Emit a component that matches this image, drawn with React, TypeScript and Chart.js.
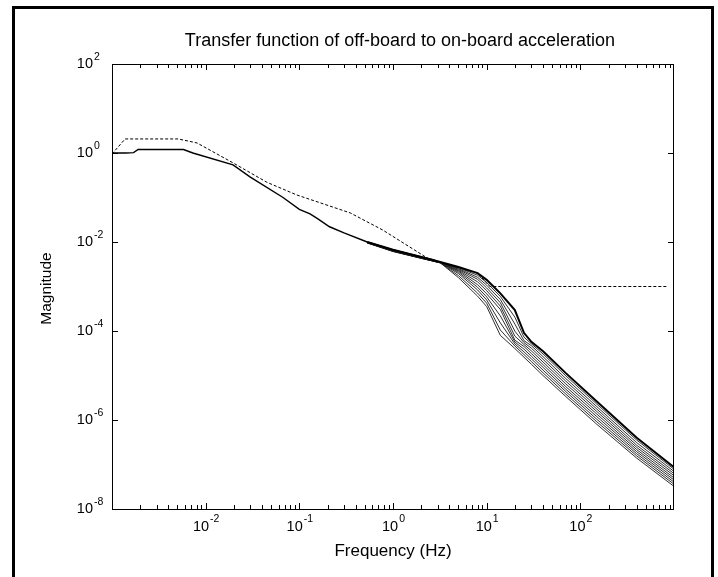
import React, { useEffect, useRef } from "react";
import { Chart, registerables } from "chart.js";

Chart.register(...registerables);

// ---------- data ----------
const TITLE = "Transfer function of off-board to on-board acceleration";
const X_LABEL = "Frequency (Hz)";
const Y_LABEL = "Magnitude";

const X_MIN = 0.001;
const X_MAX = 1000;
const Y_MIN = 1e-8;
const Y_MAX = 1e2;

const X_TICK_EXPONENTS = [-2, -1, 0, 1, 2];
const X_DECADES = [-3, -2, -1, 0, 1, 2];
const Y_TICK_EXPONENTS = [2, 0, -2, -4, -6, -8];

// low-frequency solid response
const FREQ_SOLID = [0.001, 0.0014, 0.0017, 0.0019, 0.0058, 0.0073, 0.0196, 0.0297, 0.067, 0.1, 0.13, 0.155, 0.21, 0.3, 0.53, 1.0, 2.67, 3.2];
const MAG_SOLID = [1.0, 1.0, 1.02, 1.2, 1.2, 1.0, 0.54, 0.29, 0.1, 0.054, 0.043, 0.034, 0.022, 0.016, 0.01, 0.0066, 0.004, 0.0035];

// dotted reference response
const FREQ_DOTTED = [0.001, 0.00138, 0.0051, 0.0081, 0.0196, 0.045, 0.094, 0.35, 0.78, 2.48, 3.2, 8, 10.8, 850];
const MAG_DOTTED = [0.95, 2.07, 2.07, 1.68, 0.6, 0.22, 0.114, 0.045, 0.0185, 0.004, 0.0035, 0.002, 0.001, 0.001];

// family of responses (they overlap below ~3 Hz and fan out above)
const FREQ_BUNDLE = [0.53, 1.0, 2.0, 3.2, 5, 8, 10, 14, 20, 25, 30, 40, 70, 150, 400, 1000];
const MAG_B0 = [1.0e-2, 6.7e-3, 4.6e-3, 3.55e-3, 2.75e-3, 2.0e-3, 1.41e-3, 7.0e-4, 2.95e-4, 9.1e-5, 5.7e-5, 3.5e-5, 1.13e-5, 2.6e-6, 4.0e-7, 8.7e-8];
const MAG_B1 = [1.0e-2, 6.6e-3, 4.55e-3, 3.5e-3, 2.64e-3, 1.79e-3, 1.23e-3, 5.97e-4, 2.05e-4, 7.28e-5, 5.16e-5, 3.05e-5, 9.84e-6, 2.28e-6, 3.53e-7, 7.8e-8];
const MAG_B2 = [9.9e-3, 6.5e-3, 4.5e-3, 3.5e-3, 2.53e-3, 1.61e-3, 1.07e-3, 5.08e-4, 1.43e-4, 6.08e-5, 4.68e-5, 2.65e-5, 8.55e-6, 2.0e-6, 3.09e-7, 6.98e-8];
const MAG_B3 = [9.8e-3, 6.4e-3, 4.45e-3, 3.5e-3, 2.43e-3, 1.45e-3, 9.29e-4, 4.32e-4, 9.93e-5, 5.51e-5, 4.11e-5, 2.31e-5, 7.45e-6, 1.76e-6, 2.71e-7, 6.25e-8];
const MAG_B4 = [9.8e-3, 6.4e-3, 4.4e-3, 3.45e-3, 2.32e-3, 1.27e-3, 8.05e-4, 3.62e-4, 7.67e-5, 4.99e-5, 3.58e-5, 2.01e-5, 6.47e-6, 1.55e-6, 2.42e-7, 5.6e-8];
const MAG_B5 = [9.7e-3, 6.3e-3, 4.4e-3, 3.45e-3, 2.22e-3, 1.1e-3, 6.85e-4, 3.04e-4, 6.22e-5, 4.49e-5, 3.12e-5, 1.75e-5, 5.62e-6, 1.36e-6, 2.16e-7, 5.0e-8];
const MAG_B6 = [9.7e-3, 6.3e-3, 4.35e-3, 3.45e-3, 2.09e-3, 9.62e-4, 5.83e-4, 2.18e-4, 5.64e-5, 3.91e-5, 2.72e-5, 1.52e-5, 4.93e-6, 1.19e-6, 1.94e-7, 4.49e-8];
const MAG_B7 = [9.6e-3, 6.2e-3, 4.35e-3, 3.4e-3, 1.95e-3, 8.36e-4, 4.98e-4, 1.52e-4, 5.11e-5, 3.4e-5, 2.37e-5, 1.32e-5, 4.35e-6, 1.04e-6, 1.74e-7, 4.02e-8];
const MAG_B8 = [9.6e-3, 6.2e-3, 4.3e-3, 3.4e-3, 1.75e-3, 7.11e-4, 4.22e-4, 1.05e-4, 4.61e-5, 2.96e-5, 2.06e-5, 1.15e-5, 3.82e-6, 9.12e-7, 1.56e-7, 3.6e-8];
const MAG_B9 = [9.5e-3, 6.1e-3, 4.3e-3, 3.4e-3, 1.58e-3, 6.07e-4, 3.54e-4, 7.96e-5, 4.04e-5, 2.58e-5, 1.79e-5, 9.98e-6, 3.36e-6, 8.0e-7, 1.39e-7, 3.22e-8];
const BUNDLE = [MAG_B0, MAG_B1, MAG_B2, MAG_B3, MAG_B4, MAG_B5, MAG_B6, MAG_B7, MAG_B8, MAG_B9];

// ---------- styles ----------
const FONT = "'Liberation Sans', Arial, Helvetica, sans-serif";

const toPoints = (xs: number[], ys: number[]) => xs.map((x, i) => ({ x, y: ys[i] }));

const decorPlugin = {
  id: "decor",
  afterDraw(chart: any) {
    const ctx: CanvasRenderingContext2D = chart.ctx;
    const { left, right, top, bottom } = chart.chartArea;
    const xs = chart.scales.x;
    const ys = chart.scales.y;
    ctx.save();
    ctx.fillStyle = "#000";
    ctx.strokeStyle = "#000";

    // outer figure frame
    ctx.fillRect(12, 6, 3, 600);
    ctx.fillRect(12, 6, 702, 3);
    ctx.fillRect(711, 6, 3, 600);

    // axes box
    ctx.lineWidth = 1;
    ctx.strokeRect(left + 0.5, top + 0.5, right - left - 1, bottom - top);

    // x ticks (major + minor, bottom and top)
    ctx.beginPath();
    for (const d of X_DECADES) {
      for (let m = 1; m <= 9; m++) {
        const v = m * Math.pow(10, d);
        if (v <= X_MIN || v >= X_MAX) continue;
        const px = Math.round(xs.getPixelForValue(v)) + 0.5;
        const len = m === 1 ? 6 : 4;
        ctx.moveTo(px, bottom);
        ctx.lineTo(px, bottom - len);
        ctx.moveTo(px, top);
        ctx.lineTo(px, top + len);
      }
    }
    // y ticks (left and right)
    for (const e of Y_TICK_EXPONENTS) {
      const py = Math.round(ys.getPixelForValue(Math.pow(10, e))) + 0.5;
      ctx.moveTo(left, py);
      ctx.lineTo(left + 6, py);
      ctx.moveTo(right, py);
      ctx.lineTo(right - 6, py);
    }
    ctx.stroke();

    // tick labels
    const baseFont = `14.5px ${FONT}`;
    const expFont = `10.5px ${FONT}`;
    ctx.textBaseline = "middle";
    for (const e of X_TICK_EXPONENTS) {
      const px = xs.getPixelForValue(Math.pow(10, e));
      ctx.font = baseFont;
      const w10 = ctx.measureText("10").width;
      ctx.font = expFont;
      const we = ctx.measureText(String(e)).width;
      const start = px - (w10 + we) / 2;
      ctx.font = baseFont;
      ctx.textAlign = "left";
      ctx.fillText("10", start, 527);
      ctx.font = expFont;
      ctx.fillText(String(e), start + w10 + 1, 519);
    }
    for (const e of Y_TICK_EXPONENTS) {
      const py = ys.getPixelForValue(Math.pow(10, e));
      ctx.font = baseFont;
      ctx.textAlign = "right";
      ctx.fillText("10", 93, py);
      ctx.font = expFont;
      ctx.textAlign = "left";
      ctx.fillText(String(e), 94, py - 7);
    }

    // title and axis labels
    ctx.textAlign = "center";
    ctx.font = `18px ${FONT}`;
    ctx.fillText(TITLE, 400, 41);
    ctx.font = `17px ${FONT}`;
    ctx.fillText(X_LABEL, (left + right) / 2, 551);
    ctx.save();
    ctx.translate(46.5, (top + bottom) / 2 + 2);
    ctx.rotate(-Math.PI / 2);
    ctx.font = `15.5px ${FONT}`;
    ctx.fillText(Y_LABEL, 0, 0);
    ctx.restore();

    ctx.restore();
  },
};

export default function App() {
  const canvasRef = useRef<HTMLCanvasElement | null>(null);

  useEffect(() => {
    document.body.style.margin = "0";
    document.body.style.background = "#fff";
    const canvas = canvasRef.current;
    if (!canvas) return;

    const datasets: any[] = [];
    BUNDLE.forEach((mags, k) => {
      datasets.push({
        data: toPoints(FREQ_BUNDLE, mags),
        borderColor: k === 0 ? "#000" : "#1a1a1a",
        borderWidth: k === 0 ? 2 : 0.9,
        pointRadius: 0,
        tension: 0,
        fill: false,
      });
    });
    datasets.push({
      data: toPoints(FREQ_SOLID, MAG_SOLID),
      borderColor: "#000",
      borderWidth: 1.4,
      pointRadius: 0,
      tension: 0,
      fill: false,
    });
    datasets.push({
      data: toPoints(FREQ_DOTTED, MAG_DOTTED),
      borderColor: "#000",
      borderWidth: 1,
      borderDash: [3, 2],
      pointRadius: 0,
      tension: 0,
      fill: false,
    });

    const chart = new Chart(canvas, {
      type: "line",
      data: { datasets },
      options: {
        animation: false,
        responsive: false,
        devicePixelRatio: 1,
        layout: { padding: { left: 112, top: 64, right: 44, bottom: 68 } },
        plugins: { legend: { display: false }, tooltip: { enabled: false }, title: { display: false } },
        scales: {
          x: { type: "logarithmic", min: X_MIN, max: X_MAX, display: false },
          y: { type: "logarithmic", min: Y_MIN, max: Y_MAX, display: false },
        },
      },
      plugins: [decorPlugin],
    });
    return () => chart.destroy();
  }, []);

  return (
    <div style={{ width: 718, height: 577, background: "#fff" }}>
      <canvas ref={canvasRef} width={718} height={577} style={{ display: "block", width: 718, height: 577 }} />
    </div>
  );
}
